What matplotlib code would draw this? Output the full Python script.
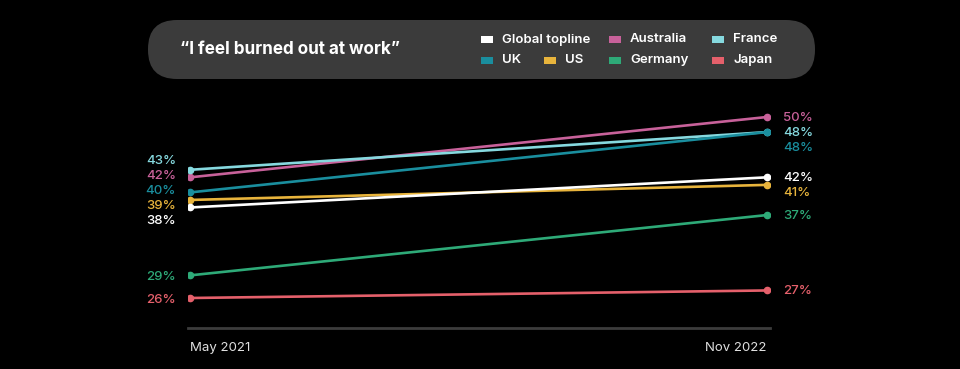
import matplotlib.pyplot as plt
from matplotlib.patches import FancyBboxPatch, Rectangle

plt.rcParams['font.family'] = ['Inter', 'DejaVu Sans']

fechas = ['May 2021', 'Nov 2022']
paises = ['Global topline', 'Australia', 'France', 'UK', 'US', 'Germany', 'Japan']
valores_2021 = [38, 42, 43, 40, 39, 29, 26]
valores_2022 = [42, 50, 48, 48, 41, 37, 27]
colores = ['#ffffff', '#c8619a', '#86d9df', '#1a8e9e', '#e8b43c', '#2eaa78', '#e5606b']
titulo = '\u201cI feel burned out at work\u201d'

W, H = 960, 369
fig = plt.figure(figsize=(W / 100, H / 100), dpi=100, facecolor='black')

# eje principal en pixeles de figura
izq, der, arriba, abajo = 188, 770, 100, 328
ax = fig.add_axes([izq / W, 1 - abajo / H, (der - izq) / W, (abajo - arriba) / H])
ax.set_facecolor('black')

px_por_unidad = 577
ax.set_xlim(-2 / px_por_unidad, 1 + 3 / px_por_unidad)
px_por_punto = 181 / 24
ax.set_ylim(26 - 30 / px_por_punto, 26 + 198 / px_por_punto)

for i in range(len(paises)):
    ax.plot([0, 1], [valores_2021[i], valores_2022[i]], color=colores[i], lw=1.9,
            marker='o', ms=4.5, zorder=3 + (i == 0))

for s in ['top', 'right', 'left']:
    ax.spines[s].set_visible(False)
ax.spines['bottom'].set_color('#3c3c3c')
ax.spines['bottom'].set_linewidth(2)
ax.set_yticks([])
ax.set_xticks([0, 1])
ax.set_xticklabels(fechas, color='#e0e0e0', fontsize=9.5)
ax.tick_params(axis='x', length=0, pad=10)
ax.get_xticklabels()[0].set_ha('left')
ax.get_xticklabels()[1].set_ha('right')

gap = 15 / px_por_punto  # separacion minima entre etiquetas


def centrar_grupos(vals):
    # agrupa valores cercanos y reparte sus etiquetas alrededor del centro
    orden = sorted(range(len(vals)), key=lambda k: -vals[k])
    grupos = [[orden[0]]]
    for k in orden[1:]:
        ult = grupos[-1]
        centro = sum(vals[j] for j in ult) / len(ult)
        if centro - (len(ult) - 1) * gap / 2 - vals[k] < gap * 1.5:
            ult.append(k)
        else:
            grupos.append([k])
    pos = [0] * len(vals)
    for g in grupos:
        centro = sum(vals[j] for j in g) / len(g)
        for n, j in enumerate(g):
            pos[j] = centro + ((len(g) - 1) / 2 - n) * gap
    return pos


def empujar_abajo(vals):
    orden = sorted(range(len(vals)), key=lambda k: -vals[k])
    pos = [0] * len(vals)
    prev = None
    for k in orden:
        y = vals[k]
        if prev is not None and prev - y < gap:
            y = prev - gap
        pos[k] = y
        prev = y
    return pos


pos_izq = centrar_grupos(valores_2021)
pos_der = empujar_abajo(valores_2022)
for i in range(len(paises)):
    ax.annotate(f'{valores_2021[i]}%', (0, pos_izq[i]), xytext=(-14, -2),
                textcoords='offset pixels', ha='right', va='center',
                color=colores[i], fontsize=9.5, fontweight='medium')
    ax.annotate(f'{valores_2022[i]}%', (1, pos_der[i]), xytext=(16, -1),
                textcoords='offset pixels', ha='left', va='center',
                color=colores[i], fontsize=9.5, fontweight='medium')

# cabecera tipo pastilla
cab = fig.add_axes([0, 0, 1, 1])
cab.set_xlim(0, W)
cab.set_ylim(H, 0)
cab.axis('off')
cab.add_patch(FancyBboxPatch((148, 20), 667, 59,
                             boxstyle='round,pad=0,rounding_size=29',
                             fc='#3b3b3b', ec='none'))
cab.text(180, 49, titulo, color='white', fontsize=12.3, fontweight='bold',
         ha='left', va='center')

# leyenda: fila de arriba 3 elementos, fila de abajo 4
leyenda_fila1 = [0, 1, 2]
leyenda_fila2 = [3, 4, 5, 6]
x_fila1 = [481, 609, 712]
x_fila2 = [481, 544, 609, 712]
for fila, (idx, xs, y) in enumerate([(leyenda_fila1, x_fila1, 39.5),
                                     (leyenda_fila2, x_fila2, 60)]):
    for i, x in zip(idx, xs):
        cab.add_patch(Rectangle((x, y - 3.5), 12, 7, fc=colores[i], ec='none'))
        cab.text(x + 21, y, paises[i], color='white', fontsize=9.5,
                 fontweight='semibold', ha='left', va='center')

fig.savefig('out.png', dpi=100, facecolor='black')
